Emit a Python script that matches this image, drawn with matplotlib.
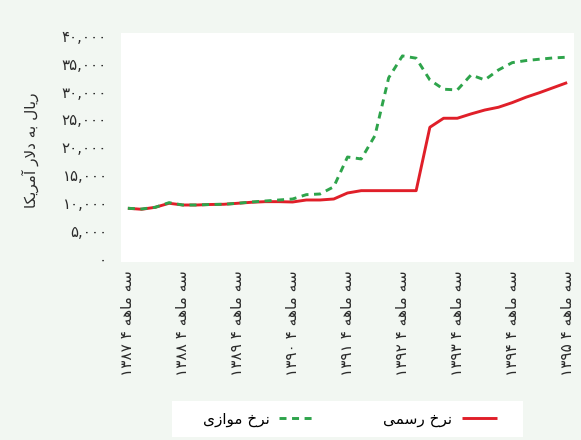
import re
import numpy as np
import matplotlib
matplotlib.use("Agg")
import matplotlib.pyplot as plt
from matplotlib.patches import Rectangle
from matplotlib.ticker import FuncFormatter

# quarterly values, rial per US dollar
official = [9030, 8850, 9210, 9930, 9620, 9620, 9710, 9750, 9930, 10110,
            10220, 10220, 10160, 10520, 10520, 10700, 11780, 12200, 12200, 12200,
            12200, 12200, 23600, 25220, 25220, 26000, 26700, 27200, 28030, 29000,
            29830, 30730, 31630]
parallel = [9030, 8900, 9210, 10040, 9620, 9620, 9710, 9750, 9930, 10160,
            10340, 10520, 10700, 11480, 11600, 12900, 18250, 17900, 22100, 32500,
            36430, 36020, 32110, 30440, 30310, 33010, 32110, 33910, 35220, 35590,
            35840, 36070, 36200]
years = ["۱۳۸۷", "۱۳۸۸", "۱۳۸۹", "۱۳۹۰", "۱۳۹۱", "۱۳۹۲", "۱۳۹۳", "۱۳۹۴", "۱۳۹۵"]
y_ticks = [0, 5000, 10000, 15000, 20000, 25000, 30000, 35000, 40000]
name_official = "نرخ رسمی"
name_parallel = "نرخ موازی"
y_title = "ریال به دلار آمریکا"

# matplotlib has no arabic shaping, so do it by hand with presentation forms
FORMS = {
    'ا': ('\uFE8D', '\uFE8E', None, None),
    'آ': ('\uFE81', '\uFE82', None, None),
    'ب': ('\uFE8F', '\uFE90', '\uFE91', '\uFE92'),
    'خ': ('\uFEA5', '\uFEA6', '\uFEA7', '\uFEA8'),
    'د': ('\uFEA9', '\uFEAA', None, None),
    'ر': ('\uFEAD', '\uFEAE', None, None),
    'ز': ('\uFEAF', '\uFEB0', None, None),
    'س': ('\uFEB1', '\uFEB2', '\uFEB3', '\uFEB4'),
    'ل': ('\uFEDD', '\uFEDE', '\uFEDF', '\uFEE0'),
    'م': ('\uFEE1', '\uFEE2', '\uFEE3', '\uFEE4'),
    'ن': ('\uFEE5', '\uFEE6', '\uFEE7', '\uFEE8'),
    'ه': ('\uFEE9', '\uFEEA', '\uFEEB', '\uFEEC'),
    'و': ('\uFEED', '\uFEEE', None, None),
    'ی': ('\uFBFC', '\uFBFD', '\uFBFE', '\uFBFF'),
    'ک': ('\uFB8E', '\uFB8F', '\uFB90', '\uFB91'),
    'LA': ('\uFEFB', '\uFEFC', None, None),
}


def shape(text):
    chars = []
    i = 0
    while i < len(text):
        if text[i] == 'ل' and i + 1 < len(text) and text[i + 1] == 'ا':
            chars.append('LA')
            i += 2
        else:
            chars.append(text[i])
            i += 1
    out = []
    for k, c in enumerate(chars):
        if c not in FORMS:
            out.append(c)
            continue
        prev = chars[k - 1] if k > 0 else None
        nxt = chars[k + 1] if k + 1 < len(chars) else None
        join_prev = prev in FORMS and FORMS[prev][2] is not None
        join_next = nxt in FORMS and FORMS[c][2] is not None
        iso, fin, ini, med = FORMS[c]
        if join_prev and join_next:
            out.append(med)
        elif join_prev:
            out.append(fin)
        elif join_next:
            out.append(ini)
        else:
            out.append(iso)
    vis = ''.join(out)[::-1]
    # numbers keep left to right order
    return re.sub('[۰-۹]+', lambda m: m.group(0)[::-1], vis)


def fa_num(v, pos=None):
    s = "{:,}".format(int(v))
    return s.translate(str.maketrans("0123456789", "۰۱۲۳۴۵۶۷۸۹"))


plt.rcParams['font.family'] = ['DejaVu Sans']

bg = '#f2f7f2'
red = '#e01f29'
green = '#2ea44b'

fig = plt.figure(figsize=(5.81, 4.40), dpi=100, facecolor=bg)
ax = fig.add_axes([121 / 581, 1 - 262 / 440, 453 / 581, 229 / 440])
ax.set_facecolor('white')

x = np.arange(len(official))
l1, = ax.plot(x, official, color=red, lw=2.1, solid_capstyle='butt')
l2, = ax.plot(x, parallel, color=green, lw=2.1, dashes=(2.4, 1.9))

ax.set_xlim(-0.5, 32.5)
ax.set_ylim(-630, 40550)
ax.set_yticks(y_ticks)
ax.yaxis.set_major_formatter(FuncFormatter(fa_num))
ax.set_xticks(np.arange(0, 33, 4))
ax.set_xticklabels([shape("سه ماهه ۴ " + y) for y in years], rotation=90,
                   va='top', ha='center')
ax.tick_params(length=0, labelsize=11, colors='#2b2b2b')
ax.tick_params(axis='y', pad=10, labelsize=10.8)
ax.tick_params(axis='x', pad=6)
for s in ax.spines.values():
    s.set_visible(False)

fig.text(30 / 581, 1 - 150 / 440, shape(y_title), rotation=90, va='center',
         ha='center', fontsize=11, color='#2b2b2b')

# legend box
fig.patches.append(Rectangle((172 / 581, 1 - 437 / 440), 351 / 581, 36 / 440,
                             transform=fig.transFigure, facecolor='white',
                             edgecolor='none'))
fig.legend([l2, l1], [shape(name_parallel), shape(name_official)], ncol=2,
           loc='center', bbox_to_anchor=(350 / 581, 1 - 419 / 440),
           frameon=False, markerfirst=False, fontsize=11, handlelength=2.3,
           columnspacing=4.5, handletextpad=0.6)

fig.savefig('out.png', dpi=100, facecolor=bg)
